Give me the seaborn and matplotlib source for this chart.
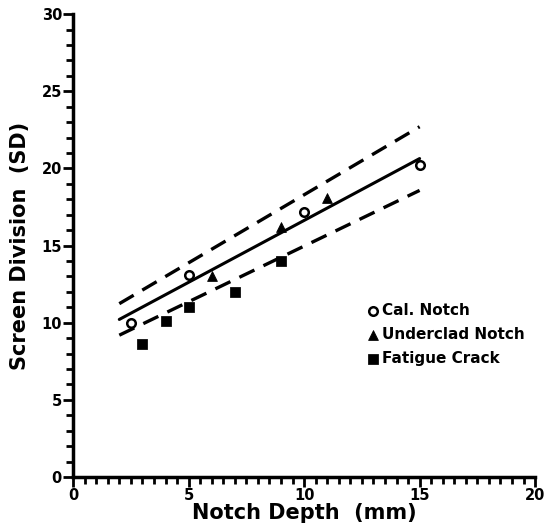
import seaborn as sns
import pandas as pd
import numpy as np
import matplotlib.pyplot as plt
from matplotlib.ticker import MultipleLocator

#----- Data -----
cal_x = [2.5, 5, 10, 15]
cal_y = [10.0, 13.1, 17.2, 20.2]
clad_x = [6, 9, 11]
clad_y = [13.0, 16.2, 18.1]
crack_x = [3, 4, 5, 7, 9]
crack_y = [8.6, 10.1, 11.0, 12.0, 14.0]
fit_x = [2, 15]
band = 0.10

#----- Style -----
sns.set_style("ticks")
plt.rcParams['font.family'] = ['DejaVu Sans']
plt.rcParams['font.weight'] = 'bold'
for k in ['text.color', 'axes.labelcolor', 'xtick.color', 'ytick.color', 'axes.edgecolor']:
    plt.rcParams[k] = 'black'

fig = plt.figure(figsize=(5.58, 5.32), dpi=100)
ax = fig.add_axes([0.131, 0.1034, 0.828, 0.870])

#----- Fit through the calibration notches, +/- 10 % band -----
slope, icpt = np.polyfit(cal_x, cal_y, 1)
fx = np.array(fit_x, dtype=float)
fy = icpt + slope * fx
df_fit = pd.DataFrame({"x": fx, "mid": fy, "hi": fy * (1 + band), "lo": fy * (1 - band)})

sns.lineplot(data=df_fit, x="x", y="mid", color="black", lw=2.2, ax=ax)
sns.lineplot(data=df_fit, x="x", y="hi", color="black", lw=2.4, ax=ax)
sns.lineplot(data=df_fit, x="x", y="lo", color="black", lw=2.4, ax=ax)
for ln in ax.lines[1:3]:
    ln.set_dashes([5, 3])

#----- Points -----
sns.scatterplot(x=cal_x, y=cal_y, marker="o", s=38, facecolor="white",
                edgecolor="black", linewidth=1.8, label="Cal. Notch", ax=ax, zorder=5)
sns.scatterplot(x=clad_x, y=clad_y, marker="^", s=50, color="black",
                edgecolor="black", label="Underclad Notch", ax=ax, zorder=5)
sns.scatterplot(x=crack_x, y=crack_y, marker="s", s=45, color="black",
                edgecolor="black", label="Fatigue Crack", ax=ax, zorder=5)

#----- Axes -----
ax.set_xlim(0, 20)
ax.set_ylim(0, 30)
ax.xaxis.set_major_locator(MultipleLocator(5))
ax.xaxis.set_minor_locator(MultipleLocator(0.5))
ax.yaxis.set_major_locator(MultipleLocator(5))
ax.yaxis.set_minor_locator(MultipleLocator(1))
ax.tick_params(which="both", direction="out", width=2, length=5, labelsize=10.5, pad=1)
ax.tick_params(which="major", length=7)
for s in ["left", "bottom"]:
    ax.spines[s].set_linewidth(2.5)
sns.despine(ax=ax)

ax.set_xlabel("Notch Depth  (mm)", fontsize=15, fontweight="bold", labelpad=0)
ax.set_ylabel("Screen Division  (SD)", fontsize=15, fontweight="bold", labelpad=8)

leg = ax.legend(loc="upper left", bbox_to_anchor=(0.62, 0.39), frameon=False,
                fontsize=11, handletextpad=0.1, labelspacing=0.6,
                borderaxespad=0, handlelength=1)

fig.savefig("out.png", dpi=100)
